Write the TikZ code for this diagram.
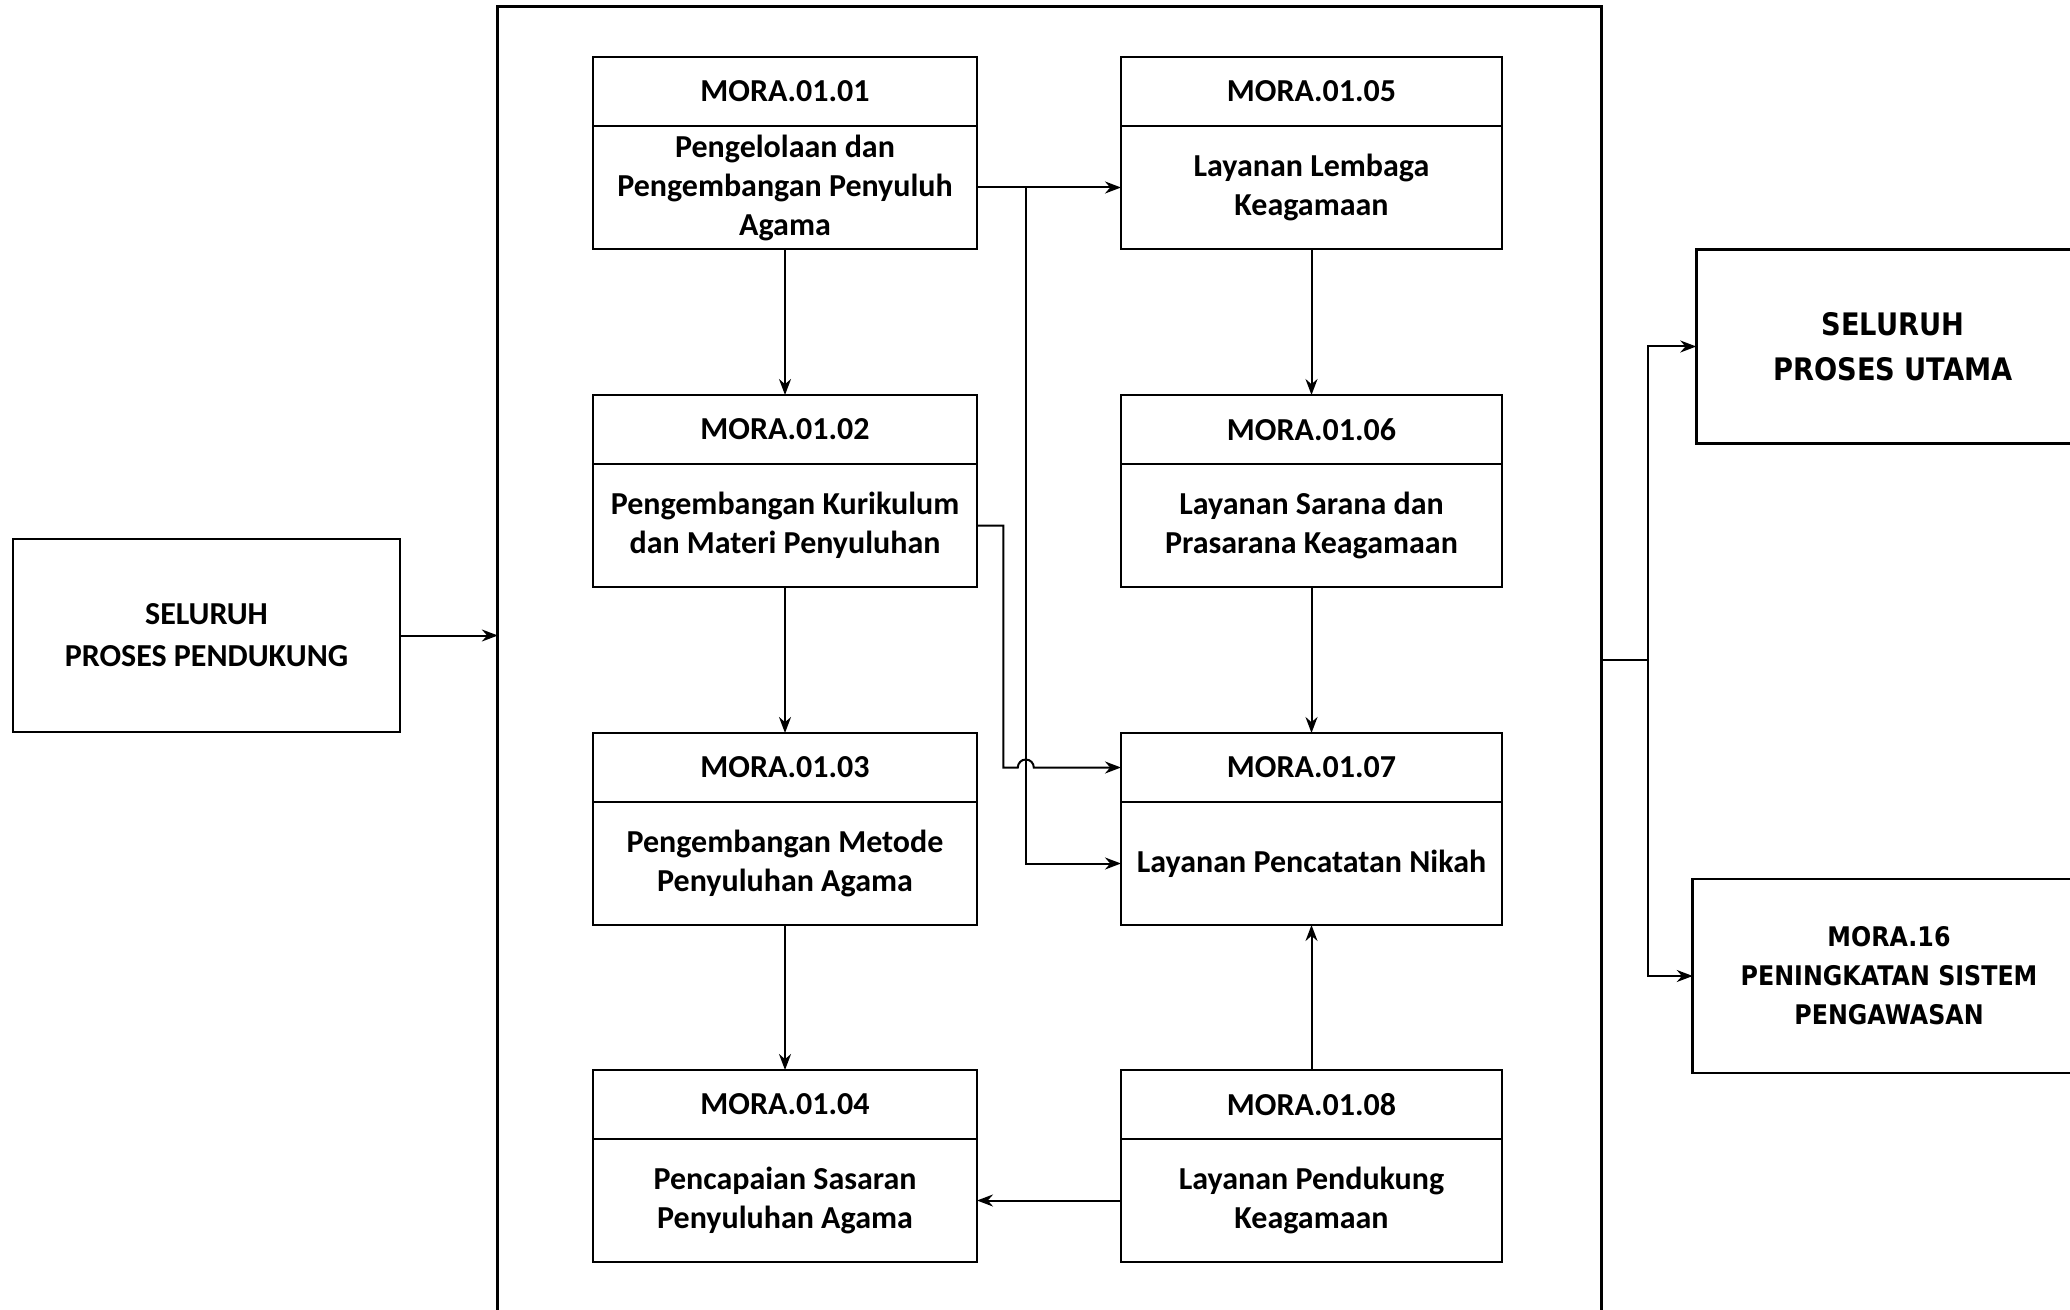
\documentclass[tikz,border=0pt]{standalone}
\usepackage{fontspec}
\setmainfont{Carlito}
\newfontfamily\rfont[FakeStretch=0.88]{DejaVu Sans}
\usetikzlibrary{arrows.meta,calc}
\begin{document}
\begin{tikzpicture}[x=0.5pt,y=-0.5pt,
  box/.style={draw, line width=1.3pt, inner sep=0pt, outer sep=0pt, align=center, font=\fontsize{16}{19.5}\selectfont\bfseries},
  hdr/.style={box, minimum height=34.5pt, anchor=north},
  bdy/.style={box, minimum height=61.5pt, anchor=north},
  lcol/.style={minimum width=192pt},
  rcol/.style={minimum width=190.5pt},
  conn/.style={line width=1pt, -{Stealth[length=8pt,width=6pt]}},
  plain/.style={line width=1pt}]
\path[use as bounding box, clip] (0,0) rectangle (2070,1310);

% outer frame
\node[draw, line width=1.5pt, minimum width=552pt, minimum height=653.7pt, inner sep=0pt, outer sep=0pt] (frame) at (1049.85,660.3) {};

% left column
\node[hdr,lcol] (h1) at (785,57) {MORA.01.01};
\node[bdy,lcol] (b1) at (h1.south) {Pengelolaan dan\\Pengembangan Penyuluh\\Agama};
\node[hdr,lcol] (h2) at (785,395) {MORA.01.02};
\node[bdy,lcol] (b2) at (h2.south) {Pengembangan Kurikulum\\dan Materi Penyuluhan};
\node[hdr,lcol] (h3) at (785,733) {MORA.01.03};
\node[bdy,lcol] (b3) at (h3.south) {Pengembangan Metode\\Penyuluhan Agama};
\node[hdr,lcol] (h4) at (785,1070) {MORA.01.04};
\node[bdy,lcol] (b4) at (h4.south) {Pencapaian Sasaran\\Penyuluhan Agama};

% right column
\node[hdr,rcol] (h5) at (1311.5,57) {MORA.01.05};
\node[bdy,rcol] (b5) at (h5.south) {Layanan Lembaga\\Keagamaan};
\node[hdr,rcol] (h6) at (1311.5,395) {MORA.01.06};
\node[bdy,rcol] (b6) at (h6.south) {Layanan Sarana dan\\Prasarana Keagamaan};
\node[hdr,rcol] (h7) at (1311.5,733) {MORA.01.07};
\node[bdy,rcol] (b7) at (h7.south) {Layanan Pencatatan Nikah};
\node[hdr,rcol] (h8) at (1311.5,1070) {MORA.01.08};
\node[bdy,rcol] (b8) at (h8.south) {Layanan Pendukung\\Keagamaan};

% outside boxes
\node[box, minimum width=193.5pt, minimum height=96.5pt, font=\fontsize{16}{21}\selectfont\bfseries] (sp) at (206.5,635.5) {SELURUH\\PROSES PENDUKUNG};
\node[box, minimum width=196.75pt, minimum height=97pt, font=\rfont\bfseries\fontsize{15.5}{22.5}\selectfont] (pu) at (1893,346.5) {SELURUH\\PROSES UTAMA};
\node[box, minimum width=196.25pt, minimum height=97pt, font=\rfont\bfseries\fontsize{13.5}{19.5}\selectfont] (m16) at (1889,976) {MORA.16\\PENINGKATAN SISTEM\\PENGAWASAN};

% helper coordinates
\coordinate (vx) at (1025.8,0);
\coordinate (kx) at (1003.4,0);
\coordinate (sx) at (1647.6,0);

% connectors
\draw[conn] (sp.east) -- (sp.east -| frame.west);
\draw[conn] (b1.east) -- (b5.west);
\draw[conn] (vx |- b1.east) -- (vx |- b7.west) -- (b7.west);
\draw[conn] (b2.east) -- (kx |- b2.east) -- (kx |- h7.west) -- ($(vx |- h7.west)+(-4pt,0)$) arc[start angle=180,end angle=0,radius=4pt] -- (h7.west);
\draw[conn] (b1.south) -- (h2.north);
\draw[conn] (b2.south) -- (h3.north);
\draw[conn] (b3.south) -- (h4.north);
\draw[conn] (b5.south) -- (h6.north);
\draw[conn] (b6.south) -- (h7.north);
\draw[conn] (h8.north) -- (b7.south);
\draw[conn] (b8.west) -- (b4.east);
\draw[plain] (frame.east) -- (sx |- frame.east);
\draw[conn] (sx |- frame.east) |- (pu.west);
\draw[conn] (sx |- frame.east) |- (m16.west);
\end{tikzpicture}
\end{document}
